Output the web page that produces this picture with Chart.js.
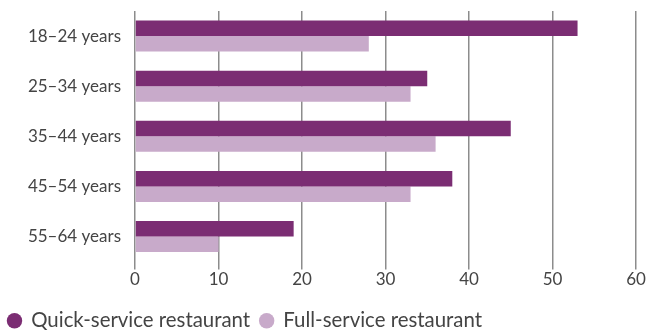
<!DOCTYPE html>
<html>
<head>
<meta charset="utf-8">
<script src="https://cdn.jsdelivr.net/npm/chart.js@4"></script>
<style>
  html, body { margin: 0; padding: 0; background: #fff; }
  #wrap { width: 650px; height: 331px; position: relative; }
</style>
</head>
<body>
<div id="wrap"><canvas id="ageChart"></canvas></div>
<script>
// Age groups and share of visits by restaurant type
const ageGroups = ['18–24 years', '25–34 years', '35–44 years', '45–54 years', '55–64 years'];
const quickService = [53, 35, 45, 38, 19];
const fullService = [28, 33, 36, 33, 10];
const xTicks = [0, 10, 20, 30, 40, 50, 60];

const TEXT = '#444';
const GRID = '#8c8c8c';

Chart.defaults.font.family = "Lato, 'Open Sans', sans-serif";
Chart.defaults.color = TEXT;

const ctx = document.getElementById('ageChart').getContext('2d');

new Chart(ctx, {
    type: 'bar',
    data: {
        labels: ageGroups,
        datasets: [{
            label: 'Quick-service restaurant',
            data: quickService,
            backgroundColor: '#7b2d73',
            categoryPercentage: 0.62,
            barPercentage: 1.0
        }, {
            label: 'Full-service restaurant',
            data: fullService,
            backgroundColor: '#c8aaca',
            categoryPercentage: 0.62,
            barPercentage: 1.0
        }]
    },
    options: {
        indexAxis: 'y',
        responsive: true,
        maintainAspectRatio: false,
        animation: false,
        layout: {
            padding: { top: 11, right: 14, left: -2, bottom: -10 }
        },
        scales: {
            x: {
                min: 0,
                max: 60,
                afterBuildTicks: (scale) => {
                    scale.ticks = xTicks.map(v => ({ value: v }));
                },
                afterFit: (scale) => {
                    scale.height = 39;
                    scale.paddingLeft = 0;
                    scale.paddingRight = 0;
                },
                grid: {
                    color: GRID,
                    lineWidth: 1.5,
                    drawTicks: true,
                    tickLength: 8,
                    tickColor: GRID
                },
                border: { display: false },
                ticks: {
                    font: { size: 17 },
                    color: TEXT,
                    padding: 0
                }
            },
            y: {
                afterFit: (scale) => {
                    scale.width = 137;
                    scale.paddingTop = 0;
                    scale.paddingBottom = 0;
                },
                grid: { display: false, drawTicks: false },
                border: { display: false },
                ticks: {
                    font: { size: 17 },
                    color: TEXT,
                    padding: 14
                }
            }
        },
        plugins: {
            legend: {
                position: 'bottom',
                align: 'start',
                labels: {
                    usePointStyle: true,
                    pointStyle: 'circle',
                    boxWidth: 13,
                    boxHeight: 10.9,
                    padding: 10,
                    font: { size: 20.4 },
                    color: TEXT
                }
            },
            tooltip: { enabled: false }
        }
    }
});
</script>
</body>
</html>
